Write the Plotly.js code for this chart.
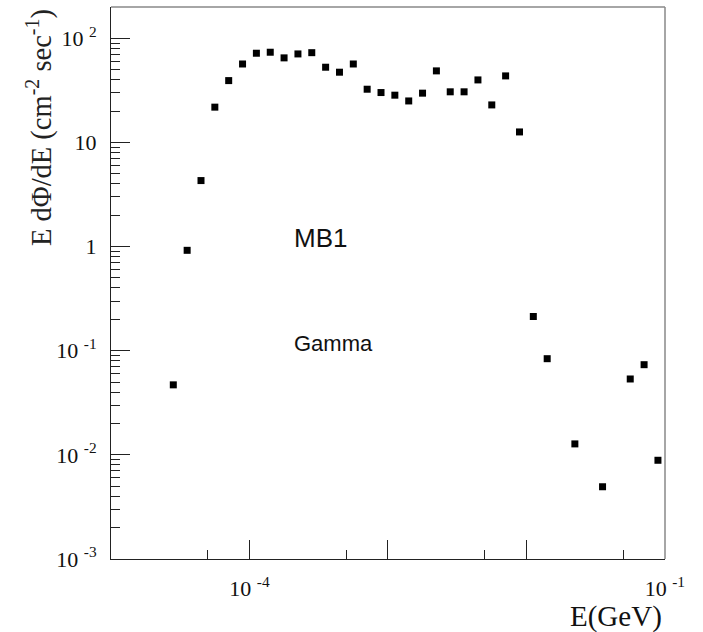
<!DOCTYPE html>
<html>
<head>
<meta charset="utf-8">
<script src="https://cdn.plot.ly/plotly-3.0.1.min.js"></script>
<style>html,body{margin:0;padding:0;background:#fff;}#chart{width:703px;height:632px;}</style>
</head>
<body>
<div id="chart"></div>
<script>
// Energy (GeV)
var energy = [2.818e-5, 3.548e-5, 4.467e-5, 5.623e-5, 7.079e-5, 8.913e-5,
  1.122e-4, 1.413e-4, 1.778e-4, 2.239e-4, 2.818e-4, 3.548e-4, 4.467e-4, 5.623e-4,
  7.079e-4, 8.913e-4, 1.122e-3, 1.413e-3, 1.778e-3, 2.239e-3, 2.818e-3, 3.548e-3,
  4.467e-3, 5.623e-3, 7.079e-3, 8.913e-3, 1.122e-2, 1.413e-2, 2.239e-2, 3.548e-2,
  5.623e-2, 7.079e-2, 8.913e-2];
// E dPhi/dE (cm^-2 sec^-1)
var flux = [0.047, 0.92, 4.3, 21.8, 39.2, 56.6,
  71.8, 73.4, 64.8, 70.7, 72.7, 52.7, 47.2, 56.6,
  32.4, 30.1, 28.4, 25.0, 29.7, 48.6, 30.6, 30.6,
  39.8, 22.9, 43.5, 12.6, 0.213, 0.0838, 0.01274, 0.00494,
  0.0535, 0.0734, 0.00887];

var xTickVals = [1e-4, 1e-3, 1e-2, 1e-1];
var xTickText = ['10 <sup>-4</sup>', '', '', '10 <sup>-1</sup>'];
var yTickVals = [1e-3, 1e-2, 1e-1, 1, 10, 100];
var yTickText = ['10 <sup>-3</sup>', '10 <sup>-2</sup>', '10 <sup>-1</sup>', '1', '10', '10 <sup>2</sup>'];

var xMinor = [], yMinor = [];
for (var d = -5; d <= -2; d++) xMinor.push(5 * Math.pow(10, d));
for (var e = -3; e <= 2; e++) for (var m = 2; m <= 9; m++) yMinor.push(m * Math.pow(10, e));

var serif = 'Liberation Serif, Times New Roman, serif';

var trace = {
  x: energy, y: flux, type: 'scatter', mode: 'markers',
  marker: {symbol: 'square', size: 7, color: '#000'},
  showlegend: false, hoverinfo: 'x+y'
};

var layout = {
  width: 703, height: 632,
  margin: {l: 111, r: 38, t: 7, b: 73},
  paper_bgcolor: '#fff', plot_bgcolor: '#fff',
  showlegend: false,
  xaxis: {
    type: 'log', range: [-5, -0.999],
    showgrid: false, zeroline: false,
    showline: true, linecolor: '#222', linewidth: 1,
    ticks: 'inside', ticklen: 19, tickwidth: 1, tickcolor: '#222',
    tickmode: 'array', tickvals: xTickVals, ticktext: xTickText,
    tickfont: {family: serif, size: 22, color: '#111'},
    ticklabelstandoff: 10,
    minor: {tickmode: 'array', tickvals: xMinor, ticks: 'inside', ticklen: 9, tickwidth: 1, tickcolor: '#222', showgrid: false}
  },
  yaxis: {
    type: 'log', range: [-3, 2.30],
    showgrid: false, zeroline: false,
    showline: true, linecolor: '#222', linewidth: 1,
    ticks: 'inside', ticklen: 19, tickwidth: 1, tickcolor: '#222',
    tickmode: 'array', tickvals: yTickVals, ticktext: yTickText,
    tickfont: {family: serif, size: 22, color: '#111'},
    ticklabelstandoff: 9,
    minor: {tickmode: 'array', tickvals: yMinor, ticks: 'inside', ticklen: 9, tickwidth: 1, tickcolor: '#222', showgrid: false}
  },
  shapes: [
    {type: 'line', xref: 'paper', yref: 'paper', x0: 0, x1: 1, y0: 1, y1: 1, line: {color: '#888', width: 1.5}},
    {type: 'line', xref: 'paper', yref: 'paper', x0: 1, x1: 1, y0: 0, y1: 1, line: {color: '#888', width: 1.5}}
  ],
  annotations: [
    {text: 'E dΦ/dE (cm<sup>-2</sup> sec<sup>-1</sup>)', xref: 'paper', yref: 'paper',
     x: -0.128, y: 0.781, xanchor: 'center', yanchor: 'middle', textangle: -90, showarrow: false,
     font: {family: serif, size: 28.5, color: '#222'}},
    {text: 'E(GeV)', xref: 'paper', yref: 'paper', x: 0.998, y: -0.105,
     xanchor: 'right', yanchor: 'middle', showarrow: false,
     font: {family: serif, size: 29, color: '#111'}},
    {text: 'MB1', xref: 'paper', yref: 'paper', x: 0.326, y: 0.581,
     xanchor: 'left', yanchor: 'middle', showarrow: false,
     font: {family: 'Liberation Sans, Arial, sans-serif', size: 26, color: '#111'}},
    {text: 'Gamma', xref: 'paper', yref: 'paper', x: 0.326, y: 0.3895,
     xanchor: 'left', yanchor: 'middle', showarrow: false,
     font: {family: 'Liberation Sans, Arial, sans-serif', size: 22, color: '#111'}}
  ]
};

Plotly.newPlot('chart', [trace], layout, {displayModeBar: false, staticPlot: true});
</script>
</body>
</html>
